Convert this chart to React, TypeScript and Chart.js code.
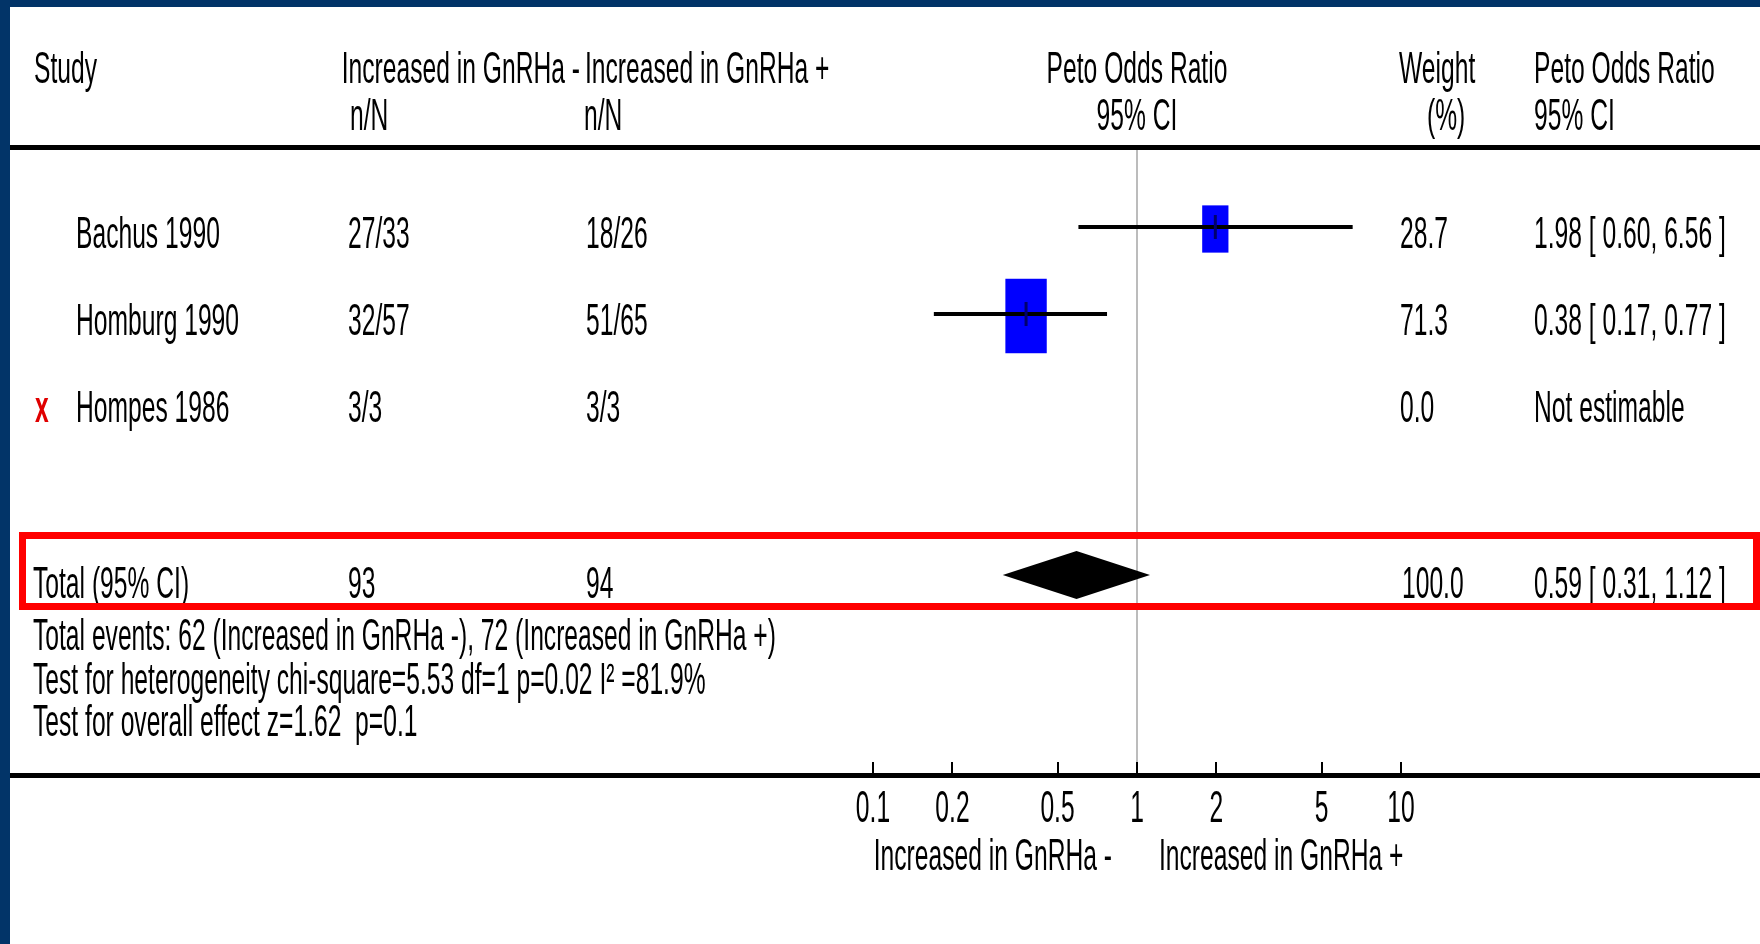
import React, { useEffect, useRef } from "react";
import { Chart, registerables } from "chart.js";

Chart.register(...registerables);

// ---------- data ----------
const studies = ["Bachus 1990", "Homburg 1990", "Hompes 1986"];
const studyRows = [0, 1, 2];
const eventsMinus = ["27/33", "32/57", "3/3"];
const eventsPlus = ["18/26", "51/65", "3/3"];
const oddsRatios: (number | null)[] = [1.98, 0.38, null];
const ciLower: (number | null)[] = [0.6, 0.17, null];
const ciUpper: (number | null)[] = [6.56, 0.77, null];
const weights = [28.7, 71.3, 0.0];
const weightLabels = ["28.7", "71.3", "0.0"];
const orLabels = ["1.98 [ 0.60, 6.56 ]", "0.38 [ 0.17, 0.77 ]", "Not estimable"];
const excluded = [false, false, true];

const totalRow = 4;
const totalLabel = "Total (95% CI)";
const totalMinusN = "93";
const totalPlusN = "94";
const totalOR = 0.59;
const totalLower = 0.31;
const totalUpper = 1.12;
const totalWeightLabel = "100.0";
const totalORLabel = "0.59 [ 0.31, 1.12 ]";

const footnotes = [
  "Total events: 62 (Increased in GnRHa -), 72 (Increased in GnRHa +)",
  "Test for heterogeneity chi-square=5.53 df=1 p=0.02 I\u00B2 =81.9%",
  "Test for overall effect z=1.62  p=0.1",
];

const xTicks = [0.1, 0.2, 0.5, 1, 2, 5, 10];
const xTickLabels = ["0.1", "0.2", "0.5", "1", "2", "5", "10"];
const favoursLeft = "Increased in GnRHa -";
const favoursRight = "Increased in GnRHa +";

const headerRow1 = ["Study", "Increased in GnRHa -", "Increased in GnRHa +", "Peto Odds Ratio", "Weight", "Peto Odds Ratio"];
const headerRow2 = ["n/N", "n/N", "95% CI", "(%)", "95% CI"];

// ---------- styling ----------
const FONT = '44px "Liberation Sans", Arial, sans-serif';
const FONT_BOLD = 'bold 44px "Liberation Sans", Arial, sans-serif';
const SX = 0.56;
const BORDER_BLUE = "#023468";

function txt(ctx: CanvasRenderingContext2D, s: string, x: number, y: number, align: CanvasTextAlign = "left", color = "#000", font = FONT) {
  ctx.save();
  ctx.translate(x, y);
  ctx.scale(SX, 1);
  ctx.font = font;
  ctx.fillStyle = color;
  ctx.textAlign = align;
  ctx.textBaseline = "alphabetic";
  ctx.fillText(s, 0, 0);
  ctx.restore();
}

const forestPlugin = {
  id: "forest",
  beforeDatasetsDraw(chart: any) {
    const ctx: CanvasRenderingContext2D = chart.ctx;
    const W = chart.width;
    const H = chart.height;
    const xs = chart.scales.x;
    const ys = chart.scales.y;
    ctx.save();
    // background
    ctx.fillStyle = "#ffffff";
    ctx.fillRect(0, 0, W, H);
    // frame
    ctx.fillStyle = BORDER_BLUE;
    ctx.fillRect(0, 0, W, 7);
    ctx.fillRect(0, 0, 10, H);
    // header rule
    ctx.fillStyle = "#000";
    ctx.fillRect(10, 145, W - 10, 5);
    // line of no effect
    const x1 = xs.getPixelForValue(1);
    ctx.fillStyle = "#bcbcbc";
    ctx.fillRect(Math.round(x1) - 1, 150, 2, 623);
    // study boxes (area proportional to weight)
    studies.forEach((_, i) => {
      const or = oddsRatios[i];
      if (or == null) return;
      const cx = xs.getPixelForValue(or);
      const cy = ys.getPixelForValue(studyRows[i]);
      const w = 4.9 * Math.sqrt(weights[i]);
      const h = w * 1.8;
      ctx.fillStyle = "#0000ff";
      ctx.fillRect(cx - w / 2, cy - h / 2 + 2, w, h);
    });
    ctx.restore();
  },
  afterDatasetsDraw(chart: any) {
    const ctx: CanvasRenderingContext2D = chart.ctx;
    const W = chart.width;
    const xs = chart.scales.x;
    const ys = chart.scales.y;
    ctx.save();
    // point estimate marks
    studies.forEach((_, i) => {
      const or = oddsRatios[i];
      if (or == null) return;
      const cx = xs.getPixelForValue(or);
      const cy = ys.getPixelForValue(studyRows[i]);
      ctx.fillStyle = "#00006e";
      ctx.fillRect(cx - 1.5, cy - 12, 3, 24);
    });
    // pooled diamond
    const ty = ys.getPixelForValue(totalRow);
    ctx.fillStyle = "#000";
    ctx.beginPath();
    ctx.moveTo(xs.getPixelForValue(totalLower), ty);
    ctx.lineTo(xs.getPixelForValue(totalOR), ty - 24);
    ctx.lineTo(xs.getPixelForValue(totalUpper), ty);
    ctx.lineTo(xs.getPixelForValue(totalOR), ty + 24);
    ctx.closePath();
    ctx.fill();

    // headers
    const x1 = xs.getPixelForValue(1);
    txt(ctx, headerRow1[0], 34, 83);
    txt(ctx, headerRow1[1], 580, 83, "right");
    txt(ctx, headerRow1[2], 585, 83);
    txt(ctx, headerRow1[3], x1, 83, "center");
    txt(ctx, headerRow1[4], 1399, 83);
    txt(ctx, headerRow1[5], 1534, 83);
    txt(ctx, headerRow2[0], 350, 130);
    txt(ctx, headerRow2[1], 584, 130);
    txt(ctx, headerRow2[2], x1, 130, "center");
    txt(ctx, headerRow2[3], 1427, 130);
    txt(ctx, headerRow2[4], 1534, 130);

    // study rows
    studies.forEach((name, i) => {
      const by = ys.getPixelForValue(studyRows[i]) + 21;
      if (excluded[i]) txt(ctx, "x", 35, by, "left", "#e00000", FONT_BOLD);
      txt(ctx, name, 76, by);
      txt(ctx, eventsMinus[i], 348, by);
      txt(ctx, eventsPlus[i], 586, by);
      txt(ctx, weightLabels[i], 1400, by);
      txt(ctx, orLabels[i], 1534, by);
    });

    // total row
    const tb = ty + 23;
    txt(ctx, totalLabel, 33, tb);
    txt(ctx, totalMinusN, 348, tb);
    txt(ctx, totalPlusN, 586, tb);
    txt(ctx, totalWeightLabel, 1402, tb);
    txt(ctx, totalORLabel, 1534, tb);

    // footnotes
    const fy = [650, 694, 736];
    footnotes.forEach((f, i) => txt(ctx, f, 33, fy[i]));

    // red highlight box
    ctx.strokeStyle = "#ff0000";
    ctx.lineWidth = 7;
    ctx.strokeRect(22.5, 535.5, W - 26, 71);

    // bottom axis
    ctx.fillStyle = "#000";
    ctx.fillRect(10, 773, W - 10, 5);
    xTicks.forEach((t, i) => {
      const px = xs.getPixelForValue(t);
      ctx.fillRect(Math.round(px) - 1, 762, 2, 12);
      txt(ctx, xTickLabels[i], px, 822, "center");
    });
    txt(ctx, favoursLeft, x1 - 25, 870, "right");
    txt(ctx, favoursRight, x1 + 22, 870, "left");
    ctx.restore();
  },
};

export default function App() {
  const ref = useRef<HTMLCanvasElement | null>(null);
  useEffect(() => {
    const canvas = ref.current;
    if (!canvas) return;
    const ciDatasets = studies
      .map((name, i) => ({ name, i }))
      .filter(({ i }) => oddsRatios[i] != null)
      .map(({ name, i }) => ({
        label: name,
        type: "line" as const,
        data: [
          { x: ciLower[i] as number, y: studyRows[i] },
          { x: ciUpper[i] as number, y: studyRows[i] },
        ],
        borderColor: "#000000",
        borderWidth: 4,
        pointRadius: 0,
        showLine: true,
        fill: false,
        clip: false as any,
      }));
    const chart = new Chart(canvas, {
      type: "scatter",
      data: { datasets: ciDatasets as any },
      options: {
        animation: false,
        responsive: false,
        devicePixelRatio: 1,
        layout: { padding: { left: 873, right: 359, top: 140, bottom: 151.5 } },
        scales: {
          x: { type: "logarithmic", min: 0.1, max: 10, display: false },
          y: { type: "linear", min: -1, max: 6.5, reverse: true, display: false },
        },
        plugins: { legend: { display: false }, tooltip: { enabled: false } },
        events: [],
      },
      plugins: [forestPlugin],
    });
    return () => chart.destroy();
  }, []);
  return (
    <div style={{ position: "fixed", left: 0, top: 0, width: 1760, height: 944, background: "#fff" }}>
      <canvas ref={ref} width={1760} height={944} style={{ display: "block", width: 1760, height: 944 }} />
    </div>
  );
}
